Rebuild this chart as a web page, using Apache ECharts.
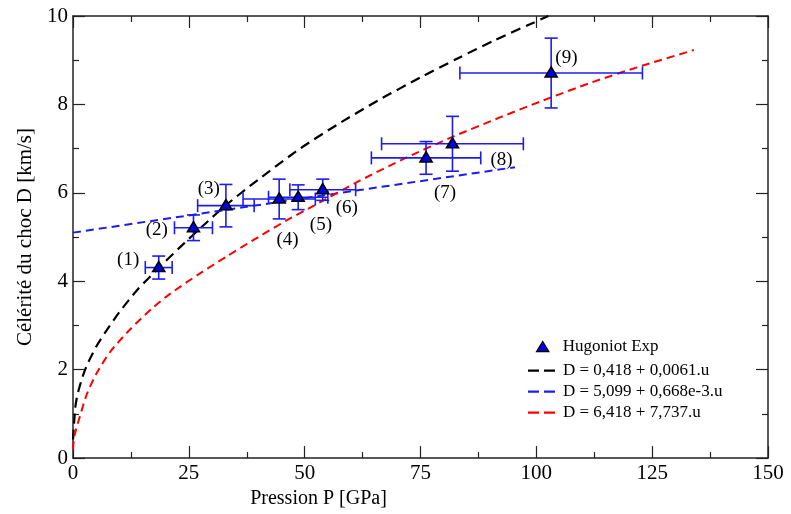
<!DOCTYPE html>
<html>
<head>
<meta charset="utf-8">
<script src="https://cdn.jsdelivr.net/npm/echarts@6/dist/echarts.min.js"></script>
<style>
html,body{margin:0;padding:0;background:#fff;}
#chart{width:791px;height:514px;}
</style>
</head>
<body>
<div id="chart"></div>
<script>
// ---- data ----
const pointLabels = ['(1)', '(2)', '(3)', '(4)', '(5)', '(6)', '(7)', '(8)', '(9)'];
const pressure    = [18.5, 26.0, 33.0, 44.5, 48.6, 53.9, 76.2, 81.9, 103.2];
const pressureErr = [2.9, 4.1, 6.1, 7.8, 6.4, 7.1, 11.8, 15.3, 19.7];
const celerity    = [4.31, 5.21, 5.71, 5.86, 5.90, 6.07, 6.79, 7.11, 8.71];
const celerityErr = [0.26, 0.29, 0.48, 0.45, 0.28, 0.24, 0.37, 0.62, 0.79];

// label anchor points (data units)
const labelP = [11.9, 18.1, 29.3, 46.3, 53.5, 59.1, 80.3, 92.5, 106.5];
const labelD = [4.48, 5.16, 6.09, 4.94, 5.28, 5.65, 6.00, 6.75, 9.05];

// fitted curves
const blackP = [0, 0.5, 1, 2, 3, 5, 7, 10, 14, 18.5, 23, 28, 33, 40, 49, 57, 66, 75, 83, 91, 99, 102.6];
const blackD = [0.42, 1.15, 1.45, 1.82, 2.1, 2.52, 2.85, 3.3, 3.82, 4.3, 4.76, 5.25, 5.72, 6.3, 7.0, 7.54, 8.1, 8.61, 9.04, 9.45, 9.83, 10.0];
const blueP  = [0, 50, 95.4];
const blueD  = [5.1, 5.88, 6.58];
const redP   = [0, 0.3, 1.5, 3, 5, 8, 12.3, 17, 21, 27, 33, 40, 46, 52, 62, 72, 82, 92, 101, 112, 123, 134];
const redD   = [0.2, 0.5, 0.95, 1.45, 1.9, 2.4, 2.91, 3.38, 3.72, 4.15, 4.55, 5.0, 5.37, 5.71, 6.28, 6.8, 7.27, 7.7, 8.07, 8.5, 8.88, 9.23];

const seriesNames = ['Hugoniot Exp', 'D = 0,418 + 0,0061.u', 'D = 5,099 + 0,668e-3.u', 'D = 6,418 + 7,737.u'];
const xTicks = { min: 0, max: 150, interval: 25 };
const yTicks = { min: 0, max: 10, interval: 2 };

const zip = (a, b) => a.map((v, i) => [v, b[i]]);

const FONT = '"Liberation Serif", "DejaVu Serif", serif';
const AX = '#222';
const BLUE = '#1c1cf0';
const lineColors = ['#000', BLUE, '#ff0000'];

function axisCommon(showLabel, pos) {
  return {
    type: 'value',
    position: pos,
    axisLine: { show: true, onZero: false, lineStyle: { color: AX, width: 1.5 } },
    axisTick: { show: true, inside: true, length: 12, lineStyle: { color: AX, width: 1.2 } },
    minorTick: { show: true, splitNumber: 2, length: 6, lineStyle: { color: AX, width: 1.2 } },
    splitLine: { show: false },
    minorSplitLine: { show: false },
    axisLabel: { show: showLabel, color: '#000', fontFamily: FONT, fontSize: 21, margin: 5 }
  };
}

const errorData = pressure.map((p, i) => [p, celerity[i], pressureErr[i], celerityErr[i]]);
const dashIcon = 'path://M0,0L0,0M0,5h11v2.2h-11zM16,5h11v2.2h-11zM27,12L27,12';

const chart = echarts.init(document.getElementById('chart'), null, { renderer: 'canvas' });
chart.setOption({
  backgroundColor: '#fff',
  animation: false,
  grid: { left: 73, right: 23, top: 16, bottom: 55 },
  xAxis: [
    Object.assign(axisCommon(true, 'bottom'), xTicks, {
      name: 'Pression P [GPa]', nameLocation: 'middle', nameGap: 29,
      nameTextStyle: { color: '#000', fontFamily: FONT, fontSize: 20, padding: [0, 204, 0, 0] }
    }),
    Object.assign(axisCommon(false, 'top'), xTicks)
  ],
  yAxis: [
    Object.assign(axisCommon(true, 'left'), yTicks, {
      name: 'Célérité du choc D [km/s]', nameLocation: 'middle', nameGap: 37,
      nameTextStyle: { color: '#000', fontFamily: FONT, fontSize: 21 }
    }),
    Object.assign(axisCommon(false, 'right'), yTicks)
  ],
  legend: [
    {
      data: [{ name: seriesNames[0], icon: 'triangle' }],
      orient: 'vertical',
      left: 531, top: 333,
      itemWidth: 12, itemHeight: 10,
      itemStyle: { borderColor: '#000', borderWidth: 1.4, opacity: 1 },
      textStyle: { color: '#000', fontFamily: FONT, fontSize: 17, lineHeight: 17, padding: [0, 0, 0, 9] }
    },
    {
      data: seriesNames.slice(1).map((n, i) => ({ name: n, icon: dashIcon, itemStyle: { color: lineColors[i] } })),
      orient: 'vertical',
      left: 523, top: 357,
      itemWidth: 27, itemHeight: 13, itemGap: 4,
      textStyle: { color: '#000', fontFamily: FONT, fontSize: 17, lineHeight: 17, padding: [0, 0, 0, 3] }
    }
  ],
  series: [
    {
      name: seriesNames[1], type: 'line', data: zip(blackP, blackD),
      smooth: 0.25, symbol: 'none', clip: true,
      lineStyle: { color: '#000', width: 2.2, type: [10, 6] }, itemStyle: { color: '#000' }, z: 2
    },
    {
      name: seriesNames[2], type: 'line', data: zip(blueP, blueD), smooth: false, symbol: 'none',
      lineStyle: { color: BLUE, width: 2, type: [8, 5] }, itemStyle: { color: BLUE }, z: 2
    },
    {
      name: seriesNames[3], type: 'line', data: zip(redP, redD),
      smooth: 0.25, symbol: 'none',
      lineStyle: { color: '#ff0000', width: 2, type: [8, 5] }, itemStyle: { color: '#ff0000' }, z: 2
    },
    {
      name: 'errors', type: 'custom', data: errorData, z: 3, silent: true,
      renderItem: function (params, api) {
        const x = api.value(0), y = api.value(1), ex = api.value(2), ey = api.value(3);
        const l = api.coord([x - ex, y]), r = api.coord([x + ex, y]);
        const t = api.coord([x, y + ey]), b = api.coord([x, y - ey]);
        const c = 6.5;
        const st = { stroke: BLUE, lineWidth: 1.6 };
        const ln = (x1, y1, x2, y2) => ({ type: 'line', shape: { x1, y1, x2, y2 }, style: st });
        return {
          type: 'group',
          children: [
            ln(l[0], l[1], r[0], r[1]),
            ln(l[0], l[1] - c, l[0], l[1] + c),
            ln(r[0], r[1] - c, r[0], r[1] + c),
            ln(t[0], t[1], b[0], b[1]),
            ln(t[0] - c, t[1], t[0] + c, t[1]),
            ln(b[0] - c, b[1], b[0] + c, b[1])
          ]
        };
      }
    },
    {
      name: seriesNames[0], type: 'scatter', data: zip(pressure, celerity),
      symbol: 'triangle', symbolSize: [12, 10], symbolOffset: [0, -1], z: 4,
      itemStyle: { color: '#0000ee', borderColor: '#000', borderWidth: 1.6, opacity: 1 }
    },
    {
      name: 'labels', type: 'scatter', symbol: 'circle', symbolSize: 1, silent: true, z: 5,
      itemStyle: { color: 'rgba(0,0,0,0)', opacity: 1 },
      data: labelP.map((p, i) => ({ value: [p, labelD[i]], name: pointLabels[i] })),
      label: { show: true, position: 'inside', formatter: '{b}', color: '#000', opacity: 1, textBorderWidth: 0, fontFamily: FONT, fontSize: 19 }
    }
  ]
});
</script>
</body>
</html>
